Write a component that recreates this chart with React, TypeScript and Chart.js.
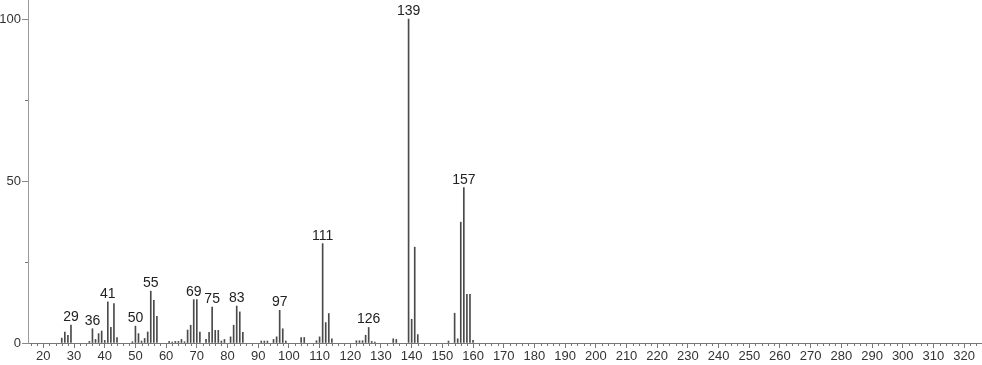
import React, { useEffect, useRef } from "react";
import { Chart, registerables } from "chart.js";

Chart.register(...registerables);

const massToCharge: number[] = [
  26, 27, 28, 29, 35, 36, 37, 38, 39, 40, 41, 42, 43, 44, 49, 50, 51, 52, 53, 54,
  55, 56, 57, 61, 62, 63, 64, 65, 66, 67, 68, 69, 70, 71, 73, 74, 75, 76, 77, 78,
  79, 81, 82, 83, 84, 85, 91, 92, 93, 95, 96, 97, 98, 99, 104, 105, 109, 110, 111,
  112, 113, 114, 122, 123, 124, 125, 126, 127, 128, 134, 135, 139, 140, 141, 142,
  152, 154, 155, 156, 157, 158, 159, 160,
];
const intensity: number[] = [
  1.5, 3.4, 2.4, 5.5, 0.5, 4.4, 1.1, 2.9, 3.7, 0.8, 12.7, 4.8, 12.2, 1.7, 0.4, 5.2, 2.9, 0.6, 1.4, 3.4,
  16.0, 13.2, 8.2, 0.5, 0.3, 0.5, 0.5, 1.1, 0.4, 4.0, 5.5, 13.4, 13.4, 3.4, 1.1, 3.3, 11.1, 3.9, 3.9, 0.6,
  1.1, 1.9, 5.5, 11.4, 9.6, 3.3, 0.6, 0.6, 0.6, 1.1, 1.9, 10.1, 4.4, 0.6, 1.7, 1.7, 0.7, 1.9, 30.7,
  6.3, 9.1, 1.3, 0.7, 0.7, 0.7, 2.4, 4.8, 0.5, 0.3, 1.3, 1.1, 100, 7.3, 29.6, 2.6,
  0.6, 9.2, 1.3, 37.3, 48.0, 15.0, 15.0, 0.8,
];
const labeledPeaks: number[] = [29, 36, 41, 50, 55, 69, 75, 83, 97, 111, 126, 139, 157];
const xMajorTicks: number[] = [20, 30, 40, 50, 60, 70, 80, 90, 100, 110, 120, 130, 140, 150, 160, 170, 180, 190, 200, 210, 220, 230, 240, 250, 260, 270, 280, 290, 300, 310, 320];
const yMajorTicks: number[] = [0, 50, 100];
const yMinorTicks: number[] = [25, 75];

const FONT = "'Liberation Sans', sans-serif";

export default function App() {
  const ref = useRef<HTMLCanvasElement | null>(null);

  useEffect(() => {
    if (!ref.current) return;
    const points = massToCharge.map((m, i) => ({ x: m, y: intensity[i] }));

    const extras = {
      id: "extras",
      afterDatasetsDraw(chart: any) {
        const ctx = chart.ctx;
        const xs = chart.scales.x;
        const ys = chart.scales.y;
        const area = chart.chartArea;
        ctx.save();
        ctx.strokeStyle = "#777";
        ctx.lineWidth = 1;
        for (let v = 16; v <= 324; v += 2) {
          if (v % 10 === 0) continue;
          const px = Math.round(xs.getPixelForValue(v)) + 0.5;
          ctx.beginPath();
          ctx.moveTo(px, area.bottom);
          ctx.lineTo(px, area.bottom + 3);
          ctx.stroke();
        }
        for (const v of yMinorTicks) {
          const py = Math.round(ys.getPixelForValue(v)) + 0.5;
          ctx.beginPath();
          ctx.moveTo(area.left - 3, py);
          ctx.lineTo(area.left, py);
          ctx.stroke();
        }
        const meta = chart.getDatasetMeta(0);
        ctx.fillStyle = "#222";
        ctx.font = `14px ${FONT}`;
        ctx.textAlign = "center";
        ctx.textBaseline = "alphabetic";
        meta.data.forEach((el: any, i: number) => {
          if (labeledPeaks.includes(massToCharge[i])) {
            ctx.fillText(String(massToCharge[i]), el.x, el.y - 4);
          }
        });
        ctx.restore();
      },
    };

    const chart = new Chart(ref.current, {
      type: "bar",
      data: {
        datasets: [
          {
            data: points as any,
            backgroundColor: "#4a4a4a",
            borderWidth: 0,
            barThickness: 1,
          },
        ],
      },
      options: {
        animation: false,
        responsive: false,
        devicePixelRatio: 1,
        layout: { padding: { top: 0, right: 1, left: 0, bottom: 0 } },
        plugins: { legend: { display: false }, tooltip: { enabled: false } },
        scales: {
          x: {
            type: "linear",
            offset: false,
            min: 15,
            max: 325.5,
            afterFit: (s: any) => {
              s.height = 22;
              s.paddingLeft = 0;
              s.paddingRight = 0;
            },
            afterBuildTicks: (s: any) => {
              s.ticks = xMajorTicks.map((v) => ({ value: v }));
            },
            border: { display: true, color: "#777", width: 1 },
            grid: { display: true, offset: false, drawOnChartArea: false, drawTicks: true, tickLength: 5, color: "#777" },
            ticks: {
              autoSkip: false,
              maxRotation: 0,
              padding: 1,
              color: "#333",
              font: { family: FONT, size: 13 },
            },
          },
          y: {
            min: 0,
            max: 105.9,
            afterFit: (s: any) => {
              s.width = 28;
              s.paddingTop = 0;
              s.paddingBottom = 0;
            },
            afterBuildTicks: (s: any) => {
              s.ticks = yMajorTicks.map((v) => ({ value: v }));
            },
            border: { display: true, color: "#999", width: 1 },
            grid: { display: true, drawOnChartArea: false, drawTicks: true, tickLength: 6, color: "#888" },
            ticks: {
              padding: 1,
              color: "#333",
              font: { family: FONT, size: 13 },
            },
          },
        },
      },
      plugins: [extras],
    });
    return () => chart.destroy();
  }, []);

  return (
    <div style={{ position: "fixed", left: 0, top: 0, width: 982, height: 365, background: "#fff" }}>
      <canvas ref={ref} width={982} height={365} style={{ display: "block" }} />
    </div>
  );
}
